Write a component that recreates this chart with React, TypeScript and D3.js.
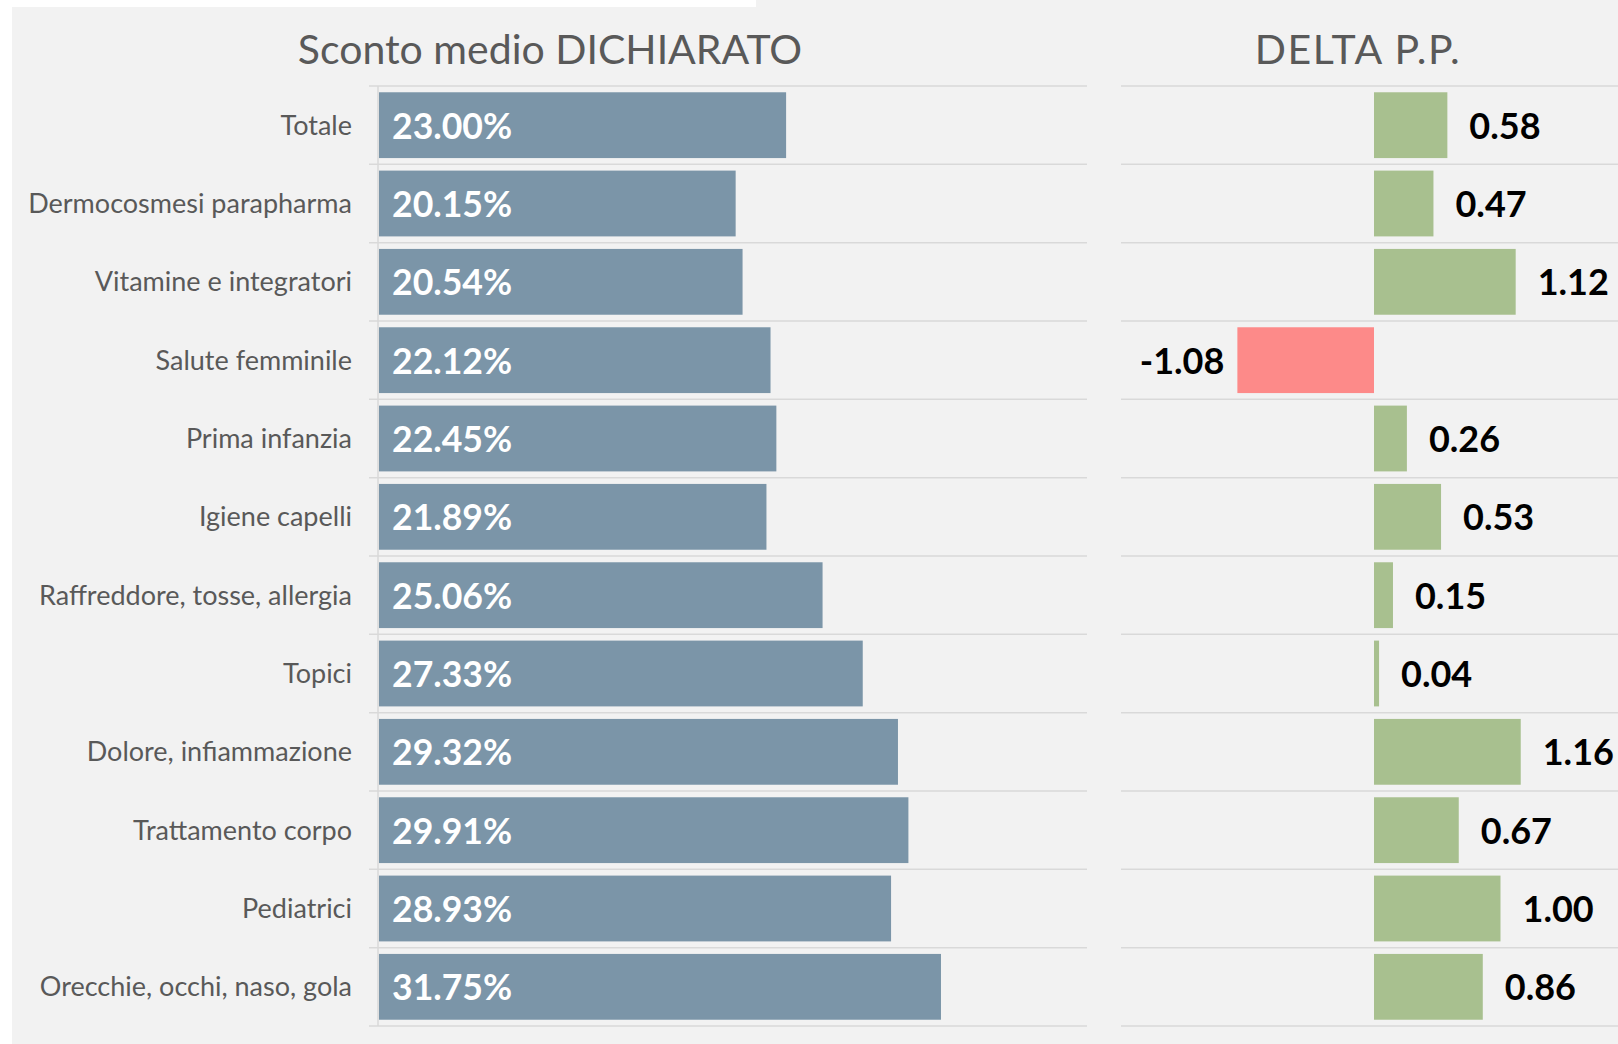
import React from 'react';
import * as d3 from 'd3';

const categories = [
  'Totale',
  'Dermocosmesi parapharma',
  'Vitamine e integratori',
  'Salute femminile',
  'Prima infanzia',
  'Igiene capelli',
  'Raffreddore, tosse, allergia',
  'Topici',
  'Dolore, infiammazione',
  'Trattamento corpo',
  'Pediatrici',
  'Orecchie, occhi, naso, gola',
];
const sconto = [23.0, 20.15, 20.54, 22.12, 22.45, 21.89, 25.06, 27.33, 29.32, 29.91, 28.93, 31.75];
const delta = [0.58, 0.47, 1.12, -1.08, 0.26, 0.53, 0.15, 0.04, 1.16, 0.67, 1.0, 0.86];

const WIDTH = 1618;
const HEIGHT = 1044;
const FONT = 'Lato, "Open Sans", sans-serif';
const GRID = '#d9d9d9';
const TOP = 86;
const BOTTOM = 1026;

const App = () => {
  const yScale = d3.scaleBand<string>().domain(categories).range([TOP, BOTTOM]).paddingInner(0.16).paddingOuter(0.08);
  const xLeft = d3.scaleLinear().domain([0, 40]).range([379, 1087]);
  const xRight = d3.scaleLinear().domain([-2, 2]).range([1121, 1627]);

  const step = yScale.step();
  const gridYs = d3.range(categories.length + 1).map((i) => TOP + i * step);
  const mid = (c: string) => (yScale(c) ?? 0) + yScale.bandwidth() / 2;

  return (
    <div style={{ position: 'absolute', left: 0, top: 0 }}>
      <style>{`body{margin:0}`}</style>
      <svg width={WIDTH} height={HEIGHT} style={{ display: 'block', fontFamily: FONT }}>
        <rect x={0} y={0} width={WIDTH} height={HEIGHT} fill="#ffffff" />
        <rect x={12} y={7} width={WIDTH - 12} height={HEIGHT - 7} fill="#f2f2f2" />
        <rect x={756} y={0} width={WIDTH - 756} height={8} fill="#f2f2f2" />

        {/* titles */}
        <text x={550} y={64} textAnchor="middle" fontSize={41} fill="#595959">
          Sconto medio DICHIARATO
        </text>
        <text x={1358} y={64} textAnchor="middle" fontSize={41} letterSpacing={1.6} fill="#595959">
          DELTA P.P.
        </text>

        {/* gridlines */}
        {gridYs.map((y, i) => (
          <g key={i}>
            <line x1={369} x2={1087} y1={y} y2={y} stroke={GRID} strokeWidth={1.5} />
            <line x1={1121} x2={WIDTH} y1={y} y2={y} stroke={GRID} strokeWidth={1.5} />
          </g>
        ))}
        <line x1={378} x2={378} y1={TOP} y2={BOTTOM} stroke={GRID} strokeWidth={1.5} />

        {/* left panel */}
        {categories.map((c, i) => (
          <g key={c}>
            <text x={352} y={mid(c) + 9.5} textAnchor="end" fontSize={27} fill="#595959">
              {c}
            </text>
            <rect x={xLeft(0)} y={yScale(c)} width={xLeft(sconto[i]) - xLeft(0)} height={yScale.bandwidth()} fill="#7b95a8" />
            <text x={xLeft(0) + 13} y={mid(c) + 13.5} fontSize={35.6} fontWeight="bold" fill="#ffffff">
              {sconto[i].toFixed(2)}%
            </text>
          </g>
        ))}

        {/* right panel */}
        {categories.map((c, i) => {
          const v = delta[i];
          const x0 = xRight(Math.min(0, v));
          const x1 = xRight(Math.max(0, v));
          return (
            <g key={c}>
              <rect x={x0} y={yScale(c)} width={x1 - x0} height={yScale.bandwidth()} fill={v < 0 ? '#fd8a89' : '#a8c08f'} />
              <text
                x={v < 0 ? x0 - 13 : x1 + 22}
                y={mid(c) + 13.5}
                textAnchor={v < 0 ? 'end' : 'start'}
                fontSize={36}
                fontWeight="bold"
                fill="#000000"
              >
                {v.toFixed(2)}
              </text>
            </g>
          );
        })}
      </svg>
    </div>
  );
};

export default App;
